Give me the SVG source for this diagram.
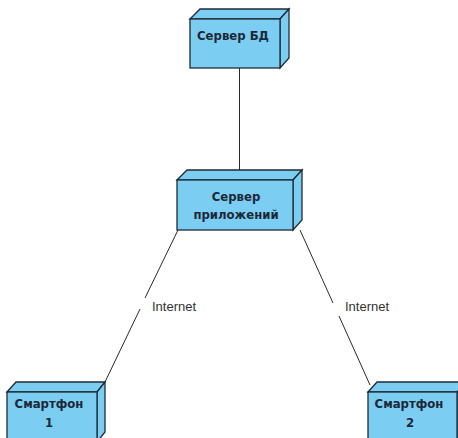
<svg xmlns="http://www.w3.org/2000/svg" width="458" height="438" viewBox="0 0 458 438">
  <style>
    .face { fill: #7ccdf2; stroke: #1f2b36; stroke-width: 1.3; stroke-linejoin: miter; }
    .name { font-family: "DejaVu Sans", Verdana, sans-serif; font-size: 11.7px; font-weight: bold; fill: #1b2838; text-anchor: middle; }
    .edge { stroke: #2a2a2a; stroke-width: 1; fill: none; }
    .label { font-family: "Liberation Sans", Arial, sans-serif; font-size: 13px; fill: #333333; }
  </style>

  <!-- connectors -->
  <g id="connectors">
    <line class="edge" x1="239.5" y1="68" x2="239.5" y2="170"/>
    <line class="edge" x1="178" y1="230" x2="145" y2="298"/>
    <line class="edge" x1="140" y1="309" x2="105" y2="382"/>
    <line class="edge" x1="300" y1="230" x2="333" y2="303"/>
    <line class="edge" x1="339" y1="316" x2="370" y2="385"/>
    <text class="label" x="152" y="311">Internet</text>
    <text class="label" x="345" y="311">Internet</text>
  </g>

  <!-- Сервер БД -->
  <g id="db-server">
    <path class="face" d="M190,19 L200,9 L289,9 L280,19 Z"/>
    <path class="face" d="M280,19 L289,9 L289,58 L280,68 Z"/>
    <rect class="face" x="190" y="19" width="90" height="49"/>
    <text class="name" x="233" y="40">Сервер БД</text>
  </g>

  <!-- Сервер приложений -->
  <g id="app-server">
    <path class="face" d="M177,180 L187,170 L302,170 L293,180 Z"/>
    <path class="face" d="M293,180 L302,170 L302,220 L293,230 Z"/>
    <rect class="face" x="177" y="180" width="116" height="50"/>
    <text class="name" x="236" y="201">Сервер</text>
    <text class="name" x="236" y="219">приложений</text>
  </g>

  <!-- Смартфон 1 -->
  <g id="phone-1">
    <path class="face" d="M7,392 L16,382 L105,382 L97,392 Z"/>
    <path class="face" d="M97,392 L105,382 L105,432 L97,442 Z"/>
    <rect class="face" x="7" y="392" width="90" height="50"/>
    <text class="name" x="49" y="408">Смартфон</text>
    <text class="name" x="49" y="427">1</text>
  </g>

  <!-- Смартфон 2 -->
  <g id="phone-2">
    <path class="face" d="M368,392 L377,382 L466,382 L457,392 Z"/>
    <path class="face" d="M457,392 L466,382 L466,432 L457,442 Z"/>
    <rect class="face" x="368" y="392" width="89" height="50"/>
    <text class="name" x="409" y="408">Смартфон</text>
    <text class="name" x="410" y="427">2</text>
  </g>
</svg>
